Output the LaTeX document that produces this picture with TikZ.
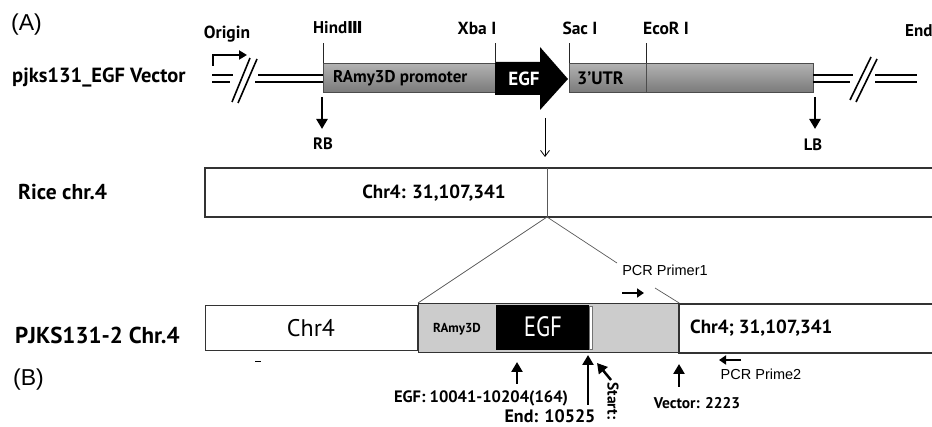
\documentclass[tikz,border=0pt]{standalone}
\usepackage{fontspec}
\setmainfont{PT Sans}
\newfontfamily\arialf{Liberation Sans}
\newfontfamily\dvsf{DejaVu Sans}
\usetikzlibrary{arrows.meta}
\begin{document}
\begin{tikzpicture}[x=1pt,y=-1pt,
  lb/.style={font=\bfseries\fontsize{#1}{#1}\selectfont, inner sep=0pt},
  nl/.style={font=\fontsize{#1}{#1}\selectfont, inner sep=0pt},
  al/.style={font=\arialf\fontsize{#1}{#1}\selectfont, inner sep=0pt},
  fat/.style={line width=2.5pt, -{Triangle[length=10pt,width=11pt]}},
  fats/.style={line width=2.6pt, -{Triangle[length=7pt,width=9pt]}},
  dbl/.style={line width=1.8pt},
  gbox/.style={draw=black!70, top color=black!30, bottom color=black!52, inner sep=0pt, anchor=north west, minimum height=29pt},
  tick/.style={draw=black!85, line width=0.7pt},
  edge/.style={draw=black!80, line width=1.2pt},
  thinl/.style={draw=black!65, line width=0.7pt}
]
\useasboundingbox (0,0) rectangle (932,427);

% ---------- (A) vector ----------
\node[al=23, anchor=west] (lA) at (11,25) {(A)};
\node[lb=20.5, anchor=west] (lvec) at (12,77) {pjks131\_EGF Vector};
\node[lb=17.5] (lorig) at (227,34) {Origin};
\coordinate (or1) at (213,66);
\coordinate (or2) at (213,55);
\coordinate (or3) at (247,55);
\draw[line width=2.2pt, -{Triangle[length=8pt,width=9pt]}] (or1) -- (or2) -- (or3);

% backbone boxes
\node[gbox, minimum width=172pt] (prom) at (323,63) {};
\node[gbox, minimum width=77pt] (utr) at (569,63) {};
\node[gbox, minimum width=167pt] (rest) at (646,63) {};
\node[lb=17, anchor=west] (tprom) at (333,78) {RAmy3D promoter};
\node[lb=18, anchor=west] (tutr) at (577,78) {3’UTR};

% left double line with break
\coordinate (a1) at (212,75); \coordinate (a2) at (233,75);
\coordinate (a3) at (212,82); \coordinate (a4) at (230,82);
\coordinate (a5) at (258,75); \coordinate (a6) at (255,82);
\draw[dbl] (a1) -- (a2) (a3) -- (a4);
\draw[dbl] (a5) -- (prom.west |- a5) (a6) -- (prom.west |- a6);
\draw[line width=1.6pt] (232,102) -- (250,58) (238,103) -- (257,59);

% right double line with break
\coordinate (b1) at (853,75); \coordinate (b2) at (850,82);
\coordinate (b3) at (875,75); \coordinate (b4) at (917,75);
\coordinate (b5) at (875,82); \coordinate (b6) at (917,82);
\draw[dbl] (rest.east |- b1) -- (b1) (rest.east |- b2) -- (b2);
\draw[dbl] (b3) -- (b4) (b5) -- (b6);
\draw[line width=1.6pt] (850,100) -- (871,57) (856,102) -- (877,59);
\node[lb=17, anchor=west] (lend) at (905,31) {End};

% EGF arrow
\fill[black] (495,62) -- (540,62) -- (540,47) -- (568,79) -- (540,110) -- (540,95) -- (495,95) -- cycle;
\node[lb=19, text=white] (tegf) at (524,79) {EGF};

% restriction sites
\node[lb=17] (hind) at (338,28) {Hind{\dvsf\bfseries\fontsize{16.5}{16}\selectfont Ⅲ}};
\node[lb=17.5] (xba) at (477,28) {Xba I};
\node[lb=17.5] (sac) at (580,28) {Sac I};
\node[lb=17.5] (eco) at (666,28) {EcoR I};
\draw[tick] (prom.north west) -- ++(0,-20);
\draw[tick] (prom.north east) -- ++(0,-20);
\draw[tick] (utr.north west) -- ++(0,-20);
\draw[tick] (rest.north west) -- ++(0,-20);

% borders
\coordinate (rb1) at (322,97); \coordinate (rb2) at (322,129);
\coordinate (lb1) at (815,97); \coordinate (lb2) at (815,129);
\draw[fat] (rb1) -- (rb2);
\draw[fat] (lb1) -- (lb2);
\node[lb=16.5] (trb) at (323,144) {RB};
\node[lb=16.5] (tlb) at (813,145) {LB};

% insertion arrow
\coordinate (ia1) at (545,118);
\coordinate (ia2) at (545,157);
\draw[line width=0.8pt, -{Straight Barb[length=6pt,width=9pt]}] (ia1) -- (ia2);

% ---------- Rice chr.4 ----------
\node[lb=21.5, anchor=west] (lrice) at (18,192) {Rice chr.4};
\draw[edge] (933,168) -- (205,168) -- (205,217) -- (933,217);
\coordinate (ins) at (547,217);
\draw[thinl] (547,168) -- (ins);
\node[lb=19] (trice) at (434,193) {Chr4: 31,107,341};

% ---------- PJKS131-2 ----------
\node[lb=23, anchor=west] (lpj) at (15,335) {PJKS131-2 Chr.4};
\node[al=23, anchor=west] (lB) at (13,380) {(B)};

\node[draw=black!80, line width=1pt, anchor=north west, minimum width=212pt, minimum height=45pt, inner sep=0pt] (chrbox) at (205,305) {};
\node[nl=24] (tchr) at (311,328) {Chr4};
\draw[line width=1pt] (255,362) -- (261,362);

\node[draw=black!80, fill=black!20, line width=1.2pt, anchor=north west, minimum width=260pt, minimum height=49pt, inner sep=0pt] (grayb) at (418,303) {};
\node[fill=black, anchor=north west, minimum width=93pt, minimum height=45pt, inner sep=0pt] (egfb) at (496,305) {};
\node[fill=white, draw=black!55, line width=0.5pt, anchor=north west, minimum width=3pt, minimum height=43pt, inner sep=0pt] (wbar) at (589,306) {};
\node[lb=13] (tramy) at (457,329) {RAmy3D};
\node[nl=28, text=white] (tegfb) at (543,327) {\scalebox{0.82}[1]{EGF}};

\draw[edge] (933,304) -- (679,304) -- (679,353) -- (933,353);
\node[lb=19, anchor=west] (tchr2) at (690,328) {Chr4; 31,107,341};

% zoom lines
\draw[thinl] (ins) -- (grayb.north west);
\draw[thinl] (ins) -- (617,263);
\draw[thinl] (655,288) -- (grayb.north east);
\node[al=14.5] (p1) at (665,270) {PCR Primer1};
\coordinate (p1a) at (622,293); \coordinate (p1b) at (644,293);
\draw[fats] (p1a) -- (p1b);
\coordinate (p2a) at (741,360); \coordinate (p2b) at (719,360);
\draw[fats] (p2a) -- (p2b);
\node[al=14.5] (p2) at (761,374) {PCR Prime2};

% position arrows
\coordinate (e1) at (517,384); \coordinate (e2) at (517,362);
\draw[fat] (e1) -- (e2);
\node[lb=16.5] (tegfpos) at (481,398) {EGF: 10041-10204(164)};
\coordinate (n1) at (588,405); \coordinate (n2) at (588,355);
\draw[fat] (n1) -- (n2);
\node[lb=18] (tend) at (550,416) {End: 10525};
\coordinate (s1) at (611,380); \coordinate (s2) at (597,363);
\draw[fat] (s1) -- (s2);
\node[lb=15.5, rotate=-90] (tstart) at (613,401) {Start:};
\coordinate (v1) at (679,387); \coordinate (v2) at (679,364);
\draw[fat] (v1) -- (v2);
\node[lb=15.5] (tvec) at (697,403) {Vector: 2223};
\end{tikzpicture}
\end{document}
